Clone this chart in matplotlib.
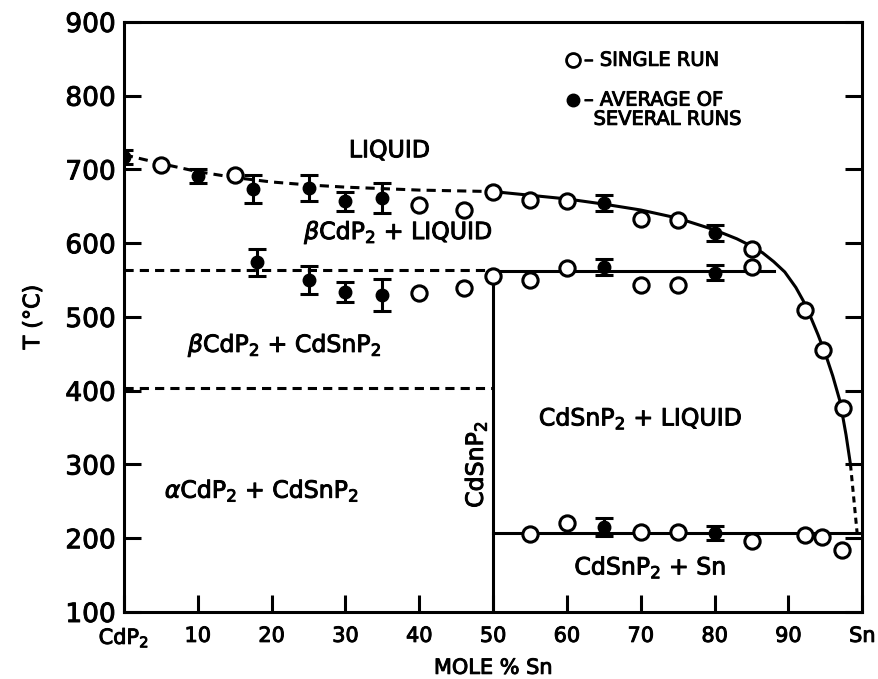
import numpy as np
import matplotlib.pyplot as plt
import matplotlib.patheffects as pe

# single runs (open circles)
open_x = [5, 15, 40, 46, 50, 55, 60, 70, 75, 85, 92.3, 94.7, 97.4,
          40, 46, 50, 55, 60, 70, 75, 85,
          55, 60, 70, 75, 85, 92.3, 94.6, 97.3]
open_T = [706, 693, 652, 645, 670, 659, 657, 633, 631, 592, 510, 455, 377,
          533, 539, 556, 550, 566, 543, 543, 568,
          206, 221, 208, 208, 196, 204, 202, 184]

# averages of several runs (filled circles with error bars)
avg_x = [0, 10, 17.5, 25, 30, 35, 65, 80,
         18, 25, 30, 35, 65, 80,
         65, 80]
avg_T = [717, 691, 674, 675, 657, 661, 654, 614,
         574, 550, 534, 530, 568, 560,
         215, 207]
avg_err = [9, 9, 19, 18, 13, 20, 11, 11,
           18, 19, 14, 22, 11, 10,
           12, 10]

# phase boundaries
liq_dash_x = [0, 5, 10, 15, 20, 25, 30, 35, 40, 45, 50]
liq_dash_T = [720, 708, 697, 689, 683, 679, 676, 674, 672, 671, 670]
liq_x = [50, 55, 60, 65, 70, 75, 80, 83, 85, 86.5, 88, 89.5, 91, 92, 93, 94,
         95, 96, 97, 97.8, 98.4]
liq_T = [670, 665, 660, 653, 645, 634, 618, 606, 596, 587, 575, 561, 540, 522,
         500, 476, 450, 420, 385, 340, 300]
liq_end_x = [98.4, 99.3]
liq_end_T = [300, 207]
beta_line_T = 564
alpha_line_T = 404
peritectic_T = 562
eutectic_T = 207

xtick_labels = ['CdP$_2$', '10', '20', '30', '40', '50', '60', '70', '80', '90', 'Sn']

fig = plt.figure(figsize=(8.79, 6.79), dpi=100)
ax = fig.add_axes([0.141, 0.0987, 0.840, 0.869])

lw = 2.2
ax.plot(liq_dash_x, liq_dash_T, color='black', lw=lw, ls=(0, (3, 2)))
ax.plot(liq_x, liq_T, color='black', lw=lw)
ax.plot(liq_end_x, liq_end_T, color='black', lw=lw, ls=(0, (2, 1.5)))
ax.plot([0, 50], [beta_line_T, beta_line_T], color='black', lw=lw, ls=(0, (3, 2)))
ax.plot([0, 50], [alpha_line_T, alpha_line_T], color='black', lw=lw, ls=(0, (3, 2)))
ax.plot([50, 88], [peritectic_T, peritectic_T], color='black', lw=lw)
ax.plot([50, 50], [100, 556], color='black', lw=lw)
ax.plot([50, 100], [eutectic_T, eutectic_T], color='black', lw=lw)

ax.errorbar(avg_x, avg_T, yerr=avg_err, fmt='o', color='black', ms=9,
            capsize=6.5, capthick=2.2, elinewidth=2.2, zorder=4)
ax.plot(open_x, open_T, 'o', ms=11, mfc='white', mec='black', mew=2.2, zorder=5)

ax.set_xlim(0, 100)
ax.set_ylim(100, 900)
ax.set_xticks([0, 10, 20, 30, 40, 50, 60, 70, 80, 90, 100])
ax.set_xticklabels(xtick_labels)
ax.set_yticks(range(100, 901, 100))
ax.tick_params(axis='both', direction='in', length=12, width=2.2,
               right=True, top=False)
ax.tick_params(axis='x', labelsize=15, pad=10)
ax.tick_params(axis='y', labelsize=19, pad=6)
for s in ax.spines.values():
    s.set_linewidth(2.2)

ax.set_xlabel('MOLE % Sn', fontsize=15, labelpad=6)
ax.set_ylabel('T (°C)', fontsize=16, labelpad=16)

thick = [pe.withStroke(linewidth=0.7, foreground='black')]
for t in ax.get_xticklabels() + ax.get_yticklabels() + [ax.xaxis.label, ax.yaxis.label]:
    t.set_path_effects(thick)

fs = 17
kw = dict(fontsize=fs, ha='center', va='center', path_effects=thick)
ax.text(36, 726, 'LIQUID', **kw)
ax.text(37.2, 615, r'$\beta$CdP$_2$ + LIQUID', **kw)
ax.text(21.8, 462, r'$\beta$CdP$_2$ + CdSnP$_2$', **kw)
ax.text(18.7, 265, r'$\alpha$CdP$_2$ + CdSnP$_2$', **kw)
ax.text(70, 363, 'CdSnP$_2$ + LIQUID', **kw)
ax.text(71.3, 161, 'CdSnP$_2$ + Sn', **kw)
ax.text(47.6, 300, 'CdSnP$_2$', rotation=90, **kw)

# legend drawn as text
ax.plot([60.8], [848], 'o', ms=10, mfc='white', mec='black', mew=2)
ax.text(62.3, 848, '– SINGLE RUN', fontsize=14, va='center', path_effects=thick)
ax.plot([60.8], [794], 'o', ms=9, color='black')
ax.text(62.3, 794, '– AVERAGE OF', fontsize=14, va='center', path_effects=thick)
ax.text(63.6, 768, 'SEVERAL RUNS', fontsize=14, va='center', path_effects=thick)

fig.savefig('out.png', dpi=100)
